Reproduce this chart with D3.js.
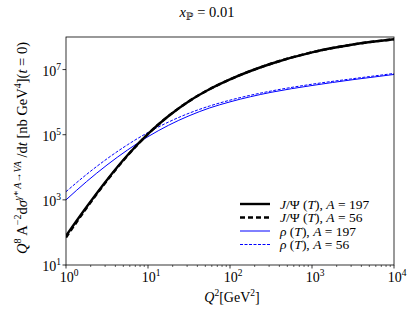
<!DOCTYPE html>
<html>
<head>
<meta charset="utf-8">
<script src="https://cdn.jsdelivr.net/npm/d3@7"></script>
<style>
  body { margin: 0; background: #fff; }
  svg text { font-family: "Liberation Serif", "DejaVu Serif", serif; fill: #000; }
</style>
</head>
<body>
<svg id="chart" width="415" height="311"></svg>
<script>
// ---- data ----
const q2 = [1, 1.78, 3.16, 5.62, 10, 17.8, 31.6, 56.2, 100, 316, 1000, 3162, 10000];
const jpsi197 = [79, 604, 4090, 23300, 1.06e5, 3.75e5, 1.07e6, 2.49e6, 5.0e6, 1.51e7, 3.39e7, 5.89e7, 8.51e7];
const jpsi56 = [70, 560, 3900, 22800, 1.05e5, 3.75e5, 1.07e6, 2.49e6, 5.0e6, 1.51e7, 3.39e7, 5.89e7, 8.51e7];
const rho197 = [1000, 3630, 11750, 33900, 87100, 1.95e5, 3.80e5, 6.61e5, 1.02e6, 2.0e6, 3.24e6, 4.9e6, 7.08e6];
const rho56 = [1780, 6030, 18200, 49000, 1.17e5, 2.45e5, 4.57e5, 7.59e5, 1.15e6, 2.19e6, 3.55e6, 5.25e6, 7.59e6];

const xTicks = [1, 10, 100, 1000, 10000];
const yTicks = [10, 1e3, 1e5, 1e7];

const series = [
  { vals: jpsi197, color: "#000", width: 2.4, dash: null, kind: "jpsi", A: "197" },
  { vals: jpsi56, color: "#000", width: 2.4, dash: "5,3", kind: "jpsi", A: "56" },
  { vals: rho197, color: "#0000ff", width: 1, dash: null, kind: "rho", A: "197" },
  { vals: rho56, color: "#0000ff", width: 1, dash: "3,1.5", kind: "rho", A: "56" }
];

// ---- layout ----
const margin = { left: 66, right: 21, top: 37, bottom: 46 };
const W = 415, H = 311;
const svg = d3.select("#chart");

const x = d3.scaleLog().domain([1, 1e4]).range([margin.left, W - margin.right]);
const y = d3.scaleLog().domain([10, 1e8]).range([H - margin.bottom, margin.top]);

// curves
const line = d3.line()
  .x((d, i) => x(q2[i]))
  .y(d => y(d))
  .curve(d3.curveMonotoneX);

svg.append("defs").append("clipPath").attr("id", "clip")
  .append("rect")
  .attr("x", margin.left).attr("y", margin.top)
  .attr("width", x.range()[1] - margin.left)
  .attr("height", y.range()[0] - margin.top);

const plot = svg.append("g").attr("clip-path", "url(#clip)");
// blue first, black on top
[series[2], series[3], series[0], series[1]].forEach(s => {
  plot.append("path")
    .datum(s.vals)
    .attr("d", line)
    .attr("fill", "none")
    .attr("stroke", s.color)
    .attr("stroke-width", s.width)
    .attr("stroke-dasharray", s.dash);
});

// frame
svg.append("rect")
  .attr("x", margin.left).attr("y", margin.top)
  .attr("width", x.range()[1] - margin.left)
  .attr("height", y.range()[0] - margin.top)
  .attr("fill", "none").attr("stroke", "#000").attr("stroke-width", 0.8);

// x axis ticks
const xMinor = [];
for (let e = 0; e < 4; e++) for (let k = 2; k <= 9; k++) xMinor.push(k * Math.pow(10, e));
const xb = y.range()[0];
svg.selectAll(".xminor").data(xMinor).enter().append("line")
  .attr("x1", d => x(d)).attr("x2", d => x(d))
  .attr("y1", xb).attr("y2", xb + 2)
  .attr("stroke", "#000").attr("stroke-width", 0.6);
svg.selectAll(".xmajor").data(xTicks).enter().append("line")
  .attr("x1", d => x(d)).attr("x2", d => x(d))
  .attr("y1", xb).attr("y2", xb + 3.5)
  .attr("stroke", "#000").attr("stroke-width", 0.8);

function powLabel(sel, exp) {
  sel.append("tspan").text("10");
  sel.append("tspan").attr("dy", -6).attr("font-size", 9.5).text(exp);
}
svg.selectAll(".xlab").data(xTicks).enter().append("text")
  .attr("x", d => x(d) + 3)
  .attr("y", xb + 17)
  .attr("text-anchor", "middle")
  .attr("font-size", 14)
  .each(function (d) { powLabel(d3.select(this), Math.round(Math.log10(d))); });

// y axis ticks
svg.selectAll(".ymajor").data(yTicks).enter().append("line")
  .attr("x1", margin.left - 3.5).attr("x2", margin.left)
  .attr("y1", d => y(d)).attr("y2", d => y(d))
  .attr("stroke", "#000").attr("stroke-width", 0.8);
svg.selectAll(".ylab").data(yTicks).enter().append("text")
  .attr("x", margin.left - 5)
  .attr("y", d => y(d) + 6)
  .attr("text-anchor", "end")
  .attr("font-size", 14)
  .each(function (d) { powLabel(d3.select(this), Math.round(Math.log10(d))); });

// title
const title = svg.append("text")
  .attr("x", 207).attr("y", 17)
  .attr("text-anchor", "middle").attr("font-size", 14.5);
title.append("tspan").attr("font-style", "italic").text("x");
title.append("tspan").attr("dy", 3).attr("font-size", 10).text("ℙ");
title.append("tspan").attr("dy", -3).text(" = 0.01");

// x label
const xl = svg.append("text")
  .attr("x", 232).attr("y", 302)
  .attr("text-anchor", "middle").attr("font-size", 14);
xl.append("tspan").attr("font-style", "italic").text("Q");
xl.append("tspan").attr("dy", -6).attr("font-size", 9.5).text("2");
xl.append("tspan").attr("dy", 6).text("[GeV");
xl.append("tspan").attr("dy", -6).attr("font-size", 9.5).text("2");
xl.append("tspan").attr("dy", 6).text("]");

// y label (rotated)
const yl = svg.append("text")
  .attr("transform", "translate(27,148) rotate(-90)")
  .attr("text-anchor", "middle").attr("font-size", 14.5);
yl.append("tspan").attr("font-style", "italic").text("Q");
yl.append("tspan").attr("dy", -6).attr("font-size", 10).text("8");
yl.append("tspan").attr("dy", 6).text(" A");
yl.append("tspan").attr("dy", -6).attr("font-size", 10).text("−2");
yl.append("tspan").attr("dy", 6).text("d");
yl.append("tspan").attr("font-style", "italic").text("σ");
yl.append("tspan").attr("dy", -6).attr("font-size", 10).attr("font-style", "italic").text("γ* A→VA");
yl.append("tspan").attr("dy", 6).text(" /d");
yl.append("tspan").attr("font-style", "italic").text("t");
yl.append("tspan").text(" [nb GeV");
yl.append("tspan").attr("dy", -6).attr("font-size", 10).text("4");
yl.append("tspan").attr("dy", 6).text("](");
yl.append("tspan").attr("font-style", "italic").text("t");
yl.append("tspan").text(" = 0)");

// legend
const lg = svg.append("g").attr("transform", "translate(240,204)");
series.forEach((s, i) => {
  const row = lg.append("g").attr("transform", `translate(0,${i * 13.5})`);
  row.append("line")
    .attr("x1", 0).attr("x2", 30).attr("y1", 0).attr("y2", 0)
    .attr("stroke", s.color).attr("stroke-width", s.width)
    .attr("stroke-dasharray", s.dash);
  const t = row.append("text").attr("x", 40).attr("y", 4.5).attr("font-size", 13.5);
  if (s.kind === "jpsi") {
    t.append("tspan").attr("font-style", "italic").text("J");
    t.append("tspan").text("/Ψ (");
  } else {
    t.append("tspan").attr("font-style", "italic").text("ρ");
    t.append("tspan").text(" (");
  }
  t.append("tspan").attr("font-style", "italic").text("T");
  t.append("tspan").text("), ");
  t.append("tspan").attr("font-style", "italic").text("A");
  t.append("tspan").text(" = " + s.A);
});
</script>
</body>
</html>
